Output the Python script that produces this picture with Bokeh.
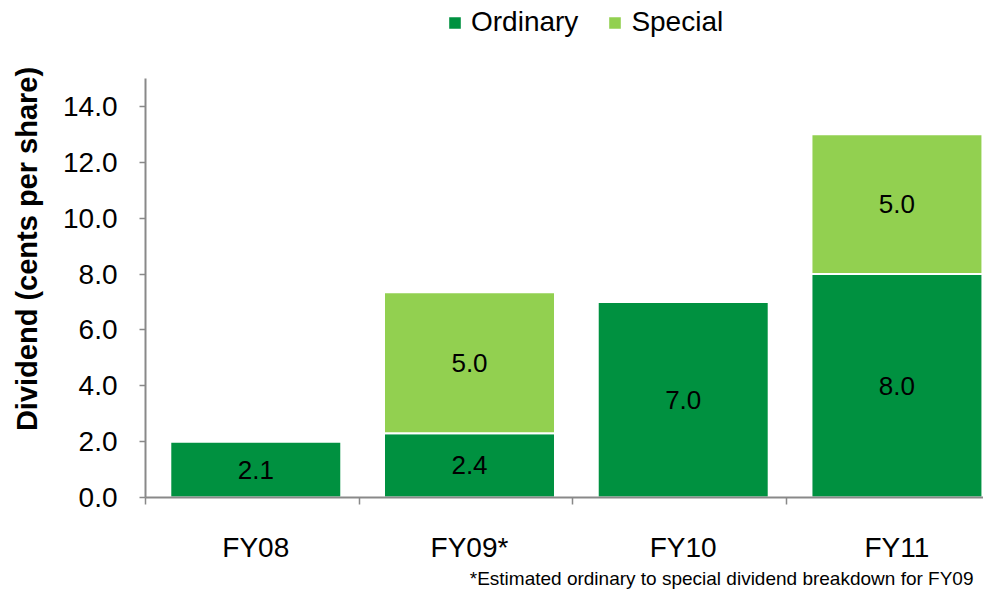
import numpy as np
from bokeh.plotting import figure
from bokeh.models import (Range1d, FixedTicker, Legend, LegendItem, Title,
                          ColumnDataSource, NumeralTickFormatter, CustomJSTickFormatter)
from bokeh.core.properties import value
from bokeh.embed import file_html
from bokeh.resources import INLINE

# ---- data ----
categories = ["FY08", "FY09*", "FY10", "FY11"]
ordinary = [2.0, 2.3, 7.0, 8.0]
special = [0.0, 5.05, 0.0, 5.0]
ordinary_labels = ["2.1", "2.4", "7.0", "8.0"]
special_labels = ["", "5.0", "", "5.0"]
y_ticks = [0, 2, 4, 6, 8, 10, 12, 14]
y_axis_max = 15
y_title = "Dividend (cents per share)"
footnote = "*Estimated ordinary to special dividend breakdown for FY09"

FONT = "Liberation Sans"
DARK = "#009140"
LIGHT = "#92D050"
AXIS = "#898989"
OFF = 0.516

idx = np.arange(len(categories))
xc = idx + OFF
ord_arr = np.array(ordinary)
sp_arr = np.array(special)
src = ColumnDataSource(dict(x=xc, bottom=np.zeros(len(categories)), ord=ord_arr,
                            top=ord_arr + sp_arr, ord_mid=ord_arr / 2,
                            sp_mid=ord_arr + sp_arr / 2, ol=ordinary_labels))
mask = sp_arr > 0
src_sp = ColumnDataSource(dict(x=xc[mask], ord=ord_arr[mask], top=(ord_arr + sp_arr)[mask],
                               sp_mid=(ord_arr + sp_arr / 2)[mask],
                               sl=[s for s, m in zip(special_labels, mask) if m]))

# frame spans whole height above the x axis (497 px); 419 px correspond to 0..15
p = figure(width=983, height=590, output_backend="svg", toolbar_location=None,
           x_range=Range1d(0, 3.921), y_range=Range1d(0, y_axis_max * 497 / 419),
           min_border_left=145, min_border_right=0, min_border_top=0, min_border_bottom=93)
p.title.visible = False
p.outline_line_color = None
p.grid.visible = False
p.background_fill_color = "white"

r_ord = p.vbar(x="x", bottom="bottom", top="ord", width=0.8, source=src,
               fill_color=DARK, line_color="white", line_width=2)
r_sp = p.vbar(x="x", bottom="ord", top="top", width=0.8, source=src_sp,
              fill_color=LIGHT, line_color="white", line_width=2)

p.text(x="x", y="ord_mid", text="ol", source=src, text_font=value(FONT),
       text_font_size="26px", text_align="center", text_baseline="middle", text_color="black")
p.text(x="x", y="sp_mid", text="sl", source=src_sp, text_font=value(FONT),
       text_font_size="26px", text_align="center", text_baseline="middle", text_color="black")

# y axis
ya = p.yaxis[0]
ya.bounds = (0, y_axis_max)
ya.ticker = FixedTicker(ticks=y_ticks)
ya.formatter = NumeralTickFormatter(format="0.0")
ya.axis_line_color = AXIS
ya.axis_line_width = 2
ya.major_tick_line_color = AXIS
ya.major_tick_line_width = 1.5
ya.major_tick_out = 6
ya.major_tick_in = 0
ya.minor_tick_line_color = None
ya.major_label_text_font = FONT
ya.major_label_text_font_size = "28px"
ya.major_label_text_color = "black"
ya.major_label_standoff = 22
ya.axis_label = y_title
ya.axis_label_text_font = FONT
ya.axis_label_text_font_size = "29px"
ya.axis_label_text_font_style = "bold"
ya.axis_label_text_color = "black"
ya.axis_label_standoff = 17

# x axis
xa = p.xaxis[0]
xa.ticker = FixedTicker(ticks=list(xc), minor_ticks=[0, 1, 2, 3, 4])
xa.formatter = CustomJSTickFormatter(args=dict(labels=categories, off=OFF),
                                     code="return labels[Math.round(tick - off)];")
xa.axis_line_color = AXIS
xa.axis_line_width = 2
xa.major_tick_line_color = None
xa.major_tick_out = 0
xa.major_tick_in = 0
xa.minor_tick_line_color = AXIS
xa.minor_tick_line_width = 1.5
xa.minor_tick_out = 7
xa.minor_tick_in = 0
xa.major_label_text_font = FONT
xa.major_label_text_font_size = "28px"
xa.major_label_text_color = "black"
xa.major_label_standoff = 27

legend = Legend(items=[LegendItem(label="Ordinary", renderers=[r_ord]),
                       LegendItem(label="Special", renderers=[r_sp])],
                orientation="horizontal", location=(301, 459),
                label_text_font=FONT, label_text_font_size="28px", label_text_color="black",
                glyph_width=17, glyph_height=17, label_standoff=8, spacing=28,
                padding=0, margin=0, border_line_color=None, background_fill_alpha=0)
p.add_layout(legend)

p.add_layout(Title(text=footnote, align="right", offset=10, standoff=0,
                   text_font=FONT, text_font_size="19px", text_font_style="normal",
                   text_color="black"), "below")

open("out.html", "w").write(file_html(p, INLINE))
